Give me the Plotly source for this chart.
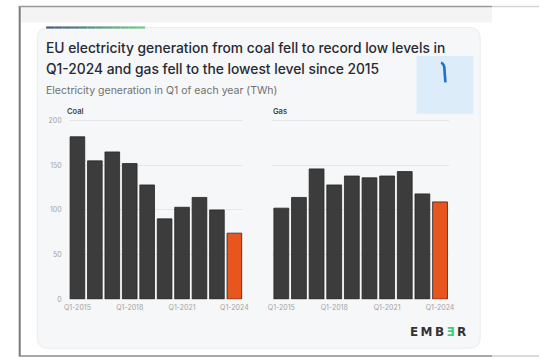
import plotly.graph_objects as go

# Q1 electricity generation in the EU, TWh
years = ["Q1-2015", "Q1-2016", "Q1-2017", "Q1-2018", "Q1-2019",
         "Q1-2020", "Q1-2021", "Q1-2022", "Q1-2023", "Q1-2024"]
coal_twh = [182, 155, 165, 152, 128, 90, 103, 114, 100, 74]
gas_twh = [102, 114, 146, 128, 138, 136, 138, 143, 118, 109]
tick_years = ["Q1-2015", "Q1-2018", "Q1-2021", "Q1-2024"]
y_ticks = [0, 50, 100, 150, 200]

W, H = 545, 363
DARK = "#3c3c3c"
ORANGE = "#e8561f"


def px(x):
    return x / W


def py(y):
    return 1 - y / H


def bar_colors(n):
    return [DARK] * (n - 1) + [ORANGE]


fig = go.Figure()
fig.add_trace(go.Bar(x=years, y=coal_twh, marker_color=bar_colors(len(years)),
                     marker_line=dict(color="#262626", width=0.8),
                     xaxis="x", yaxis="y", showlegend=False))
fig.add_trace(go.Bar(x=years, y=gas_twh, marker_color=bar_colors(len(years)),
                     marker_line=dict(color="#262626", width=0.8),
                     xaxis="x2", yaxis="y2", showlegend=False))

y_top = 118.2
y_base = 302
ydom = [py(y_base), py(y_top)]
axis_font = dict(family="Inter, sans-serif", size=7, color="#a3a3a3")

common_x = dict(type="category", categoryorder="array", categoryarray=years,
                tickvals=tick_years, ticktext=tick_years, tickfont=axis_font,
                showgrid=False, showline=False, ticks="", ticklen=0,
                ticklabelstandoff=3, fixedrange=True)
common_y = dict(range=[0, 202], tickvals=y_ticks, showgrid=True,
                gridcolor="#e6e6e6", gridwidth=1, zeroline=False,
                showline=False, ticks="", tickfont=axis_font,
                ticklabelstandoff=6, fixedrange=True)

fig.update_layout(
    width=W, height=H, margin=dict(l=0, r=0, t=0, b=0),
    paper_bgcolor="white", plot_bgcolor="rgba(0,0,0,0)",
    bargap=0.16,
    xaxis=dict(domain=[px(65), px(243)], anchor="y", **common_x),
    yaxis=dict(domain=ydom, anchor="x", showticklabels=True, **common_y),
    xaxis2=dict(domain=[px(273), px(453)], anchor="y2", **common_x),
    yaxis2=dict(domain=ydom, anchor="x2", showticklabels=False, **common_y),
)

shapes = []


def rect(x0, y0, x1, y1, fill, line=None, layer="below"):
    shapes.append(dict(type="rect", xref="paper", yref="paper",
                       x0=px(x0), x1=px(x1), y0=py(y1), y1=py(y0),
                       fillcolor=fill, line=dict(width=0) if line is None else line,
                       layer=layer))


def line(x0, y0, x1, y1, color, width, layer="below"):
    shapes.append(dict(type="line", xref="paper", yref="paper",
                       x0=px(x0), x1=px(x1), y0=py(y0), y1=py(y1),
                       line=dict(color=color, width=width), layer=layer))


def rounded_rect(x0, y0, x1, y1, r, fill, edge):
    rx, ry = r / W, r / H
    X0, X1, Y0, Y1 = px(x0), px(x1), py(y1), py(y0)
    path = (f"M{X0+rx},{Y0} L{X1-rx},{Y0} Q{X1},{Y0} {X1},{Y0+ry} "
            f"L{X1},{Y1-ry} Q{X1},{Y1} {X1-rx},{Y1} L{X0+rx},{Y1} "
            f"Q{X0},{Y1} {X0},{Y1-ry} L{X0},{Y0+ry} Q{X0},{Y0} {X0+rx},{Y0} Z")
    shapes.append(dict(type="path", xref="paper", yref="paper", path=path,
                       fillcolor=fill, line=dict(color=edge, width=1),
                       layer="below"))


# page band and frame
rect(16, 4, 497, 20, "#f4f4f4")
line(15, 3, 15, 360, "#7a7a7a", 2)
line(14, 3.5, 497, 3.5, "#9a9a9a", 1.5)
line(497, 3.5, 545, 3.5, "#d4d4d4", 1.5)
line(14, 360, 497, 360, "#8a8a8a", 1.5)
line(497, 360, 545, 360, "#cfcfcf", 1.5)

# card
rounded_rect(33, 25, 485, 352, 11, "#f6f7f8", "#ececec")

# accent line on top of the card, blue-grey to green
c0 = (74, 88, 122)
c1 = (112, 206, 140)
n_seg = 12
for i in range(n_seg):
    t = (i + 0.5) / n_seg
    col = "rgb({},{},{})".format(*[round(a + (b - a) * t) for a, b in zip(c0, c1)])
    xa = 42 + (143 - 42) * i / n_seg
    xb = 42 + (143 - 42) * (i + 1) / n_seg
    line(xa, 25, xb, 25, col, 2.2)

# light blue tile with a stroke mark
rect(420, 54, 478, 113, "#dcecf9")
shapes.append(dict(type="path", xref="paper", yref="paper",
                   path=f"M{px(445)},{py(61)} Q{px(448.5)},{py(62)} {px(448.5)},{py(68)} "
                        f"L{px(449.5)},{py(81)}",
                   line=dict(color="#1d6fd1", width=2.6), layer="above"))

fig.update_layout(shapes=shapes)

ann = []


def text(x, y, s, size, color, family="Inter, sans-serif", anchor="left", weight=None):
    f = dict(family=family, size=size, color=color)
    if weight:
        f["weight"] = weight
    ann.append(dict(xref="paper", yref="paper", x=px(x), y=py(y), text=s,
                    showarrow=False, xanchor=anchor, yanchor="middle", font=f))


text(40, 46, "EU electricity generation from coal fell to record low levels in",
     13.8, "#262a33", weight=500)
text(40, 67, "Q1-2024 and gas fell to the lowest level since 2015",
     13.8, "#262a33", weight=500)
text(40, 89, "Electricity generation in Q1 of each year (TWh)", 10.5, "#707070")
text(61, 111, "Coal", 7.5, "#444444", weight=600)
text(271, 111, "Gas", 7.5, "#444444", weight=600)
text(442, 335,
     "E\u2009M\u2009B\u2009<span style='color:#4cc979'>Ǝ</span>\u2009R",
     12, "#333333", family="DejaVu Sans, sans-serif", anchor="center", weight=700)

fig.update_layout(annotations=ann)

fig.write_html("out.html")
